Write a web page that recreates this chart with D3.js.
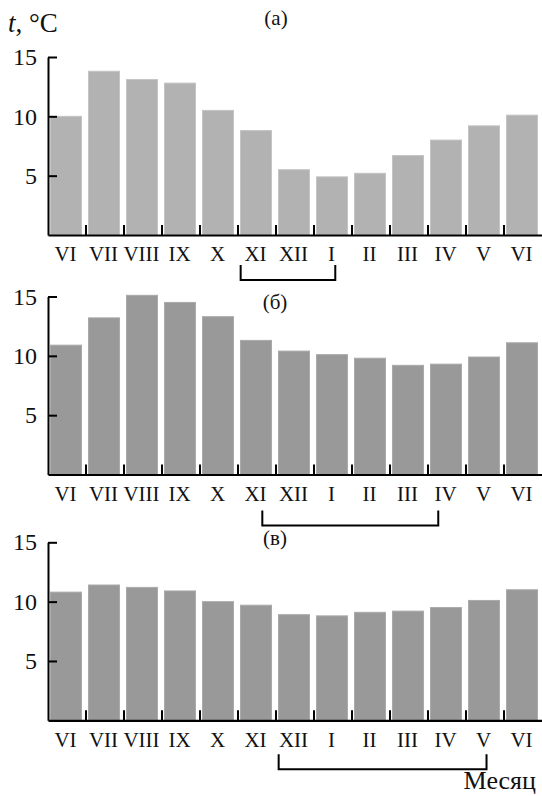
<!DOCTYPE html>
<html>
<head>
<meta charset="utf-8">
<script src="https://cdn.jsdelivr.net/npm/d3@7"></script>
<style>
  html, body { margin: 0; padding: 0; background: #fff; }
  svg { display: block; }
  text { font-family: "Liberation Serif", "DejaVu Serif", serif; fill: #111; }
</style>
</head>
<body>
<svg id="chart" width="542" height="796"></svg>
<script>
// ---- data ----
const months = ["VI","VII","VIII","IX","X","XI","XII","I","II","III","IV","V","VI"];
const tempA = [10.0, 13.8, 13.1, 12.8, 10.5, 8.8, 5.5, 4.9, 5.2, 6.7, 8.0, 9.2, 10.1];
const tempB = [10.9, 13.2, 15.1, 14.5, 13.3, 11.3, 10.4, 10.1, 9.8, 9.2, 9.3, 9.9, 11.1];
const tempC = [10.8, 11.4, 11.2, 10.9, 10.0, 9.7, 8.9, 8.8, 9.1, 9.2, 9.5, 10.1, 11.0];
const yTicks = [5, 10, 15];
const panelLabels = ["(а)", "(б)", "(в)"];
const bracketFrom = [5, 5, 6];   // month index where bracket starts
const bracketTo = [7, 10, 11];   // month index where bracket ends
const yLabel = "°C";
const xLabel = "Месяц";

// ---- layout ----
const series = [tempA, tempB, tempC];
const panelTop = [57, 296.5, 542.3];
const plotH = 178;
const barFill = ["#b2b2b2", "#999999", "#999999"];
const barStroke = ["#c4c4c4", "#aaaaaa", "#aaaaaa"];
const labelPos = [[276, 25], [275, 309], [275, 545]];
const bracketY = [[30, 45], [36, 51], [34, 49]];
const bracketFrac = [[0.07, 0.56], [0.64, 0.27], [0.07, 0.54]];

const svg = d3.select("#chart");
const x = d3.scaleBand().domain(d3.range(months.length)).range([48, 542]).padding(0);
const bw = x.bandwidth();

series.forEach((vals, p) => {
  const top = panelTop[p];
  const base = top + plotH;
  const y = d3.scaleLinear().domain([0, 15]).range([base, top]);
  const g = svg.append("g");

  // bars
  g.selectAll("rect.bar").data(vals).join("rect")
    .attr("class", "bar")
    .attr("x", (d, i) => x(i) + 2.5)
    .attr("width", bw - 7)
    .attr("y", d => y(d))
    .attr("height", d => base - y(d))
    .attr("fill", barFill[p])
    .attr("stroke", barStroke[p])
    .attr("stroke-width", 1);

  // y axis
  const ya = g.append("g").attr("transform", `translate(${x.range()[0]},0)`)
    .call(d3.axisLeft(y).tickValues(yTicks).tickSizeInner(-9).tickSizeOuter(0).tickPadding(11));
  ya.selectAll("path, line").attr("stroke", "#000").attr("stroke-width", 2);
  ya.selectAll("text").attr("font-size", 24).attr("font-family", "Liberation Serif").attr("fill", "#111");

  // x axis (labels)
  const xa = g.append("g").attr("transform", `translate(0,${base})`)
    .call(d3.axisBottom(x).tickFormat(i => months[i]).tickSize(0).tickPadding(11.5));
  xa.select("path").attr("stroke", "#000").attr("stroke-width", 2.2);
  xa.selectAll("text").attr("font-size", 21).attr("font-family", "Liberation Serif")
    .attr("fill", "#111").attr("dx", -1.5);

  // boundary ticks (upward)
  g.selectAll("line.bt").data(d3.range(1, months.length)).join("line")
    .attr("class", "bt")
    .attr("x1", i => x(i)).attr("x2", i => x(i))
    .attr("y1", base).attr("y2", base - 10)
    .attr("stroke", "#000").attr("stroke-width", 2);

  // bracket
  const bx1 = x(bracketFrom[p]) + bracketFrac[p][0] * bw;
  const bx2 = x(bracketTo[p]) + bracketFrac[p][1] * bw;
  const by1 = base + bracketY[p][0], by2 = base + bracketY[p][1];
  g.append("path")
    .attr("d", `M${bx1},${by1}V${by2}H${bx2}V${by1}`)
    .attr("fill", "none").attr("stroke", "#000").attr("stroke-width", 2);

  // panel label
  g.append("text")
    .attr("x", labelPos[p][0]).attr("y", labelPos[p][1])
    .attr("text-anchor", "middle").attr("font-size", 21)
    .text(panelLabels[p]);
});

// y axis title
const yt = svg.append("text").attr("x", 8).attr("y", 32).attr("font-size", 27);
yt.append("tspan").attr("font-style", "italic").text("t");
yt.append("tspan").text(", " + yLabel);

// x axis title
svg.append("text").attr("x", 536).attr("y", 789).attr("text-anchor", "end")
  .attr("font-size", 26).text(xLabel);
</script>
</body>
</html>
